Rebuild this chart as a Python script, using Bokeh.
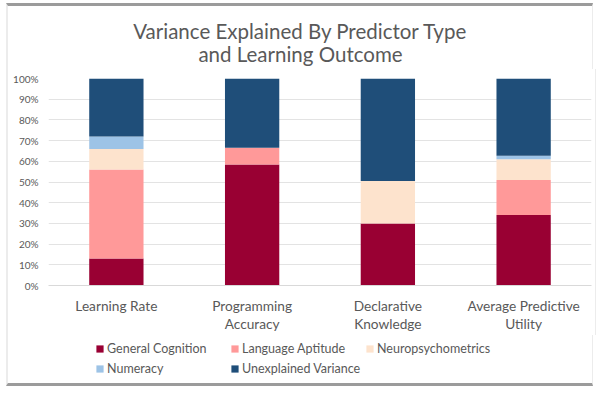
from bokeh.plotting import figure
from bokeh.layouts import column
from bokeh.models import (FactorRange, Range1d, NumeralTickFormatter, Legend, LegendItem,
                          FixedTicker, Label)
from bokeh.embed import file_html
from bokeh.resources import INLINE

outcomes = ["Learning Rate", "Programming\nAccuracy", "Declarative\nKnowledge", "Average Predictive\nUtility"]
general_cognition = [0.13, 0.585, 0.30, 0.34]
language_aptitude = [0.43, 0.08, 0.0, 0.17]
neuropsychometrics = [0.10, 0.0, 0.205, 0.10]
numeracy = [0.06, 0.0, 0.0, 0.017]
unexplained = [0.28, 0.335, 0.495, 0.373]
series_names = ["General Cognition", "Language Aptitude", "Neuropsychometrics", "Numeracy", "Unexplained Variance"]
series_keys = ["gc", "la", "np", "nu", "un"]
colors = ["#990033", "#ff9999", "#fde3cd", "#9dc3e6", "#1f4e79"]
y_ticks = [0, 0.1, 0.2, 0.3, 0.4, 0.5, 0.6, 0.7, 0.8, 0.9, 1.0]
title_lines = ["Variance Explained By Predictor Type", "and Learning Outcome"]

FONT = "Lato"
TXT = "#595959"
DARK = "#9b9b9b"
LIGHT = "#ececec"

data = dict(x=outcomes, gc=general_cognition, la=language_aptitude, np=neuropsychometrics,
            nu=numeracy, un=unexplained)


def strip(height, styles, x_range, y_range):
    f = figure(x_range=x_range, y_range=y_range, width=587, height=height,
               output_backend="svg", toolbar_location=None, x_axis_type=None, y_axis_type=None,
               min_border_left=40, min_border_right=7, min_border_top=0, min_border_bottom=0)
    f.styles = styles
    f.outline_line_color = None
    f.grid.grid_line_color = None
    f.background_fill_color = "white"
    f.border_fill_color = "white"
    return f


# ---- title strip ----
t = strip(66, {"margin-left": "6px", "margin-top": "3px", "border-top": f"3px solid {DARK}",
               "border-left": f"2px solid {LIGHT}", "border-right": f"1px solid {LIGHT}"},
          Range1d(0, 1), Range1d(0, 1))
for txt, yy in zip(title_lines, [42, 19]):
    t.add_layout(Label(x=252, y=yy, x_units="screen", y_units="screen", text=txt,
                       text_align="center", text_baseline="middle", text_font=FONT,
                       text_font_size="20.5px", text_color=TXT))

# ---- main chart ----
p = figure(x_range=FactorRange(*outcomes), y_range=Range1d(0, 1),
           frame_width=540, frame_height=207, output_backend="svg", toolbar_location=None,
           min_border_left=40, min_border_right=7, min_border_top=9, min_border_bottom=50)
p.styles = {"margin-left": "6px",
            "border-left": f"2px solid {LIGHT}", "border-right": f"1px solid {LIGHT}"}
p.outline_line_color = None
p.background_fill_color = "white"
p.border_fill_color = "white"

renderers = p.vbar_stack(series_keys, x="x", width=0.4, color=colors, source=data,
                         line_color=None)

p.yaxis.ticker = FixedTicker(ticks=y_ticks)
p.yaxis.formatter = NumeralTickFormatter(format="0%")
p.yaxis.axis_line_color = None
p.yaxis.major_tick_line_color = None
p.yaxis.minor_tick_line_color = None
p.yaxis.major_tick_out = 0
p.yaxis.major_tick_in = 0
p.yaxis.minor_tick_out = 0
p.yaxis.major_label_text_font = FONT
p.yaxis.major_label_text_font_size = "10px"
p.yaxis.major_label_text_color = TXT
p.yaxis.major_label_standoff = 10

p.xaxis.axis_line_color = "#d9d9d9"
p.xaxis.major_tick_line_color = None
p.xaxis.major_tick_out = 0
p.xaxis.major_tick_in = 0
p.xaxis.major_label_text_font = FONT
p.xaxis.major_label_text_font_size = "13.7px"
p.xaxis.major_label_text_color = TXT
p.xaxis.major_label_standoff = 11
p.xaxis.major_label_text_line_height = 1.07

p.xgrid.grid_line_color = None
p.ygrid.grid_line_color = "#e3e3e3"
p.ygrid.grid_line_width = 1

# ---- legend strip ----
q = strip(51, {"margin-left": "6px", "border-bottom": f"3px solid {DARK}",
               "border-left": f"2px solid {LIGHT}", "border-right": f"1px solid {LIGHT}"},
          FactorRange(*outcomes), Range1d(2, 3))
key_renderers = q.vbar_stack(series_keys, x="x", width=0.4, color=colors, source=data,
                             line_color=None)
legend = Legend(items=[LegendItem(label=n, renderers=[r]) for n, r in zip(series_names, key_renderers)],
                location=(47, 9), orientation="horizontal", ncols=3,
                glyph_width=9, glyph_height=9, label_standoff=3, label_height=17, label_width=120,
                spacing=3,
                label_text_font=FONT, label_text_font_size="12.5px", label_text_color=TXT,
                padding=0, margin=0, border_line_color=None, background_fill_alpha=0)
q.add_layout(legend, "center")

layout = column(t, p, q, spacing=0)
open("out.html", "w").write(file_html(layout, INLINE))
